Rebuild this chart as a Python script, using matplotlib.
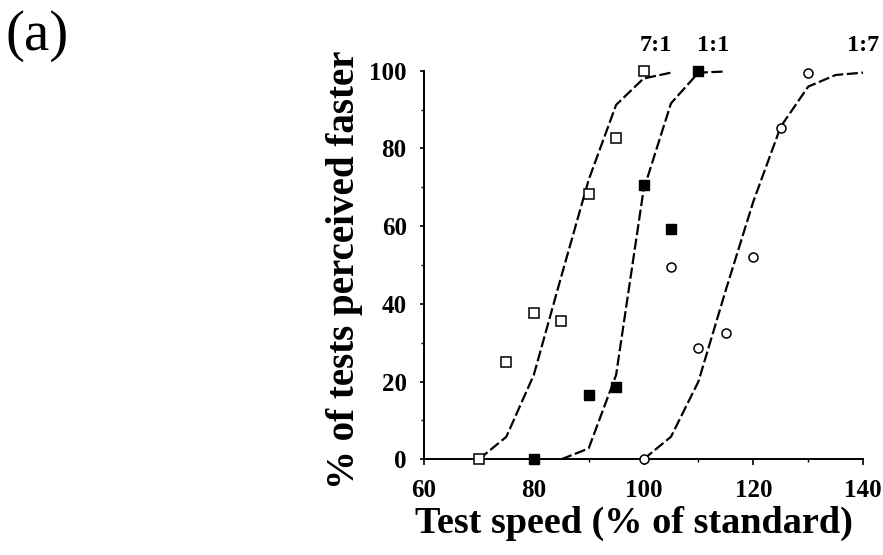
import matplotlib.pyplot as plt

plt.rcParams['font.family'] = ['Liberation Serif', 'DejaVu Serif']

# measured points
x_71 = [70, 75, 80, 85, 90, 95, 100]
y_71 = [0, 25, 37.7, 35.6, 68.4, 82.8, 100]
x_11 = [80, 90, 95, 100, 105, 110]
y_11 = [0, 16.5, 18.7, 70.6, 59.3, 100]
x_17 = [100, 105, 110, 115, 120, 125, 130]
y_17 = [0, 49.6, 28.6, 32.6, 52.1, 85.2, 99.5]

# fitted curves
cx_71 = [70, 75, 80, 85, 90, 95, 100, 105]
cy_71 = [0, 5.8, 21.7, 47, 71.9, 91.2, 98, 99.5]
cx_11 = [85, 90, 95, 100, 105, 110, 115]
cy_11 = [0, 2.8, 21.7, 69.3, 91.6, 99.5, 99.8]
cx_17 = [100, 105, 110, 115, 120, 125, 130, 135, 140]
cy_17 = [0, 5.8, 20, 43.6, 66.3, 85.6, 95.9, 98.9, 99.5]

ratio_labels = ['7:1', '1:1', '1:7']
ratio_x = [102.2, 112.6, 140]

fig = plt.figure(figsize=(8.83, 5.55), dpi=100)
ax = fig.add_axes([0.4802, 0.1724, 0.4972, 0.7002])

dash = dict(color='black', lw=1.6, linestyle=(0, (5, 1.6)), clip_on=False)
ax.plot(cx_71, cy_71, **dash)
ax.plot(cx_11, cy_11, **dash)
ax.plot(cx_17, cy_17, **dash)

ax.plot(x_71, y_71, 's', ms=7, mfc='white', mec='black', mew=1.1, clip_on=False, zorder=3)
ax.plot(x_11, y_11, 's', ms=6.5, mfc='black', mec='black', clip_on=False, zorder=3)
ax.plot(x_17, y_17, 'o', ms=6.5, mfc='white', mec='black', mew=1.1, clip_on=False, zorder=3)

for lab, xp in zip(ratio_labels, ratio_x):
    ax.text(xp, 106.6, lab, ha='center', va='center', fontsize=17.5, fontweight='bold')

ax.set_xlim(60, 140)
ax.set_ylim(0, 100)
ax.set_xticks([60, 80, 100, 120, 140])
ax.set_yticks([0, 20, 40, 60, 80, 100])
ax.set_yticks([10, 30, 50, 70, 90], minor=True)
ax.set_xticks([70, 90, 110, 130], minor=True)
ax.tick_params(axis='x', labelsize=18, width=1.2, length=4, pad=10)
ax.tick_params(axis='y', labelsize=18, width=1.2, length=3, pad=9.5)
ax.tick_params(which='minor', length=2.5, width=1)
for t in ax.get_xticklabels() + ax.get_yticklabels():
    t.set_fontweight('bold')
ax.spines['top'].set_visible(False)
ax.spines['right'].set_visible(False)
ax.spines['left'].set_linewidth(1.4)
ax.spines['bottom'].set_linewidth(1.4)

ax.set_xlabel('Test speed (% of standard)', fontsize=27.5, fontweight='bold', labelpad=3)
ax.set_ylabel('% of tests perceived faster', fontsize=28, fontweight='bold', labelpad=4.5)
ax.xaxis.label.set_x(0.478)
ax.yaxis.label.set_y(0.487)

fig.text(0.006, 0.91, '(a)', fontsize=41, va='baseline', ha='left')

fig.savefig('out.png', dpi=100)
